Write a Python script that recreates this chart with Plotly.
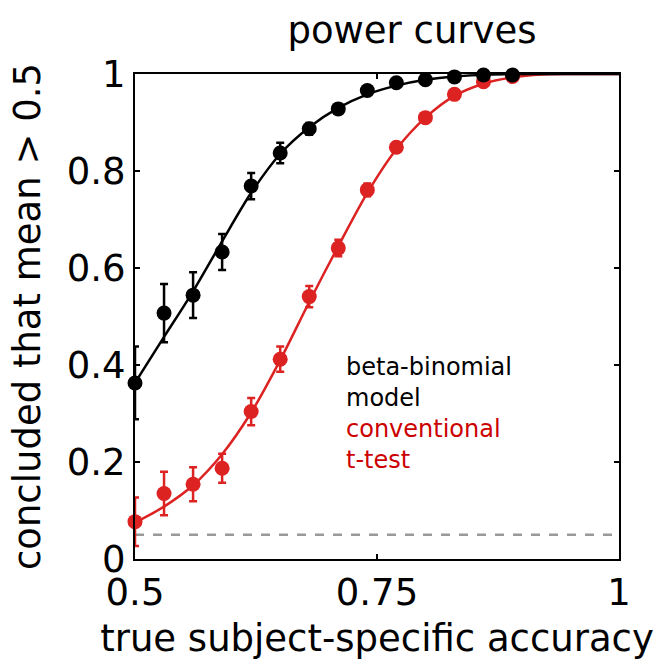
import plotly.graph_objects as go

# Simulated power of each test, per true accuracy
accuracy = [0.50, 0.53, 0.56, 0.59, 0.62, 0.65, 0.68, 0.71, 0.74, 0.77, 0.80, 0.83, 0.86, 0.89]

beta_binomial_power = [0.363, 0.507, 0.544, 0.633, 0.769, 0.837, 0.887, 0.928, 0.966, 0.982, 0.988, 0.994, 0.998, 0.998]
beta_binomial_err = [0.075, 0.060, 0.047, 0.037, 0.027, 0.021, 0.012, 0.009, 0.006, 0.005, 0.004, 0.003, 0.002, 0.002]

ttest_power = [0.077, 0.135, 0.154, 0.187, 0.304, 0.412, 0.541, 0.641, 0.761, 0.849, 0.910, 0.958, 0.984, 0.995]
ttest_err = [0.050, 0.045, 0.035, 0.030, 0.028, 0.026, 0.022, 0.017, 0.013, 0.010, 0.008, 0.006, 0.004, 0.003]

# Fitted power curves
curve_x = [0.50, 0.53, 0.56, 0.59, 0.62, 0.65, 0.68, 0.71, 0.74, 0.77, 0.80, 0.83, 0.86, 0.89, 0.92, 0.95, 1.00]
beta_binomial_curve = [0.363, 0.458, 0.552, 0.655, 0.755, 0.835, 0.890, 0.930, 0.958, 0.976, 0.988, 0.995, 0.998, 1.000, 1.000, 1.000, 1.000]
ttest_curve = [0.075, 0.108, 0.152, 0.216, 0.302, 0.410, 0.530, 0.645, 0.755, 0.845, 0.910, 0.955, 0.980, 0.993, 0.999, 1.000, 1.000]

# Nominal significance level
alpha_x = [0.5, 1.0]
alpha_y = [0.05, 0.05]

x_ticks = [0.5, 0.75, 1.0]
x_ticklabels = ["0.5", "0.75", "1"]
y_ticks = [0, 0.2, 0.4, 0.6, 0.8, 1.0]
y_ticklabels = ["0", "0.2", "0.4", "0.6", "0.8", "1"]

# In-plot labels: (text, colour, y position of block centre)
label_blocks = [
    ("beta-binomial<br>model", "#000000", 0.363),
    ("conventional<br>t-test", "#cc0000", 0.236),
]
label_x = 0.716

BLACK = "#000000"
RED = "#dd2222"
GREY = "#999999"
FONT = "DejaVu Sans, Liberation Sans, sans-serif"

fig = go.Figure()

fig.add_trace(go.Scatter(
    x=alpha_x, y=alpha_y, mode="lines",
    line=dict(color=GREY, width=2.5, dash="dash"),
    showlegend=False, hoverinfo="skip",
))

fig.add_trace(go.Scatter(
    x=curve_x, y=ttest_curve, mode="lines",
    line=dict(color=RED, width=2.5, shape="spline", smoothing=0.8),
    showlegend=False,
))
fig.add_trace(go.Scatter(
    x=curve_x, y=beta_binomial_curve, mode="lines",
    line=dict(color=BLACK, width=2.5, shape="spline", smoothing=0.8),
    showlegend=False,
))

fig.add_trace(go.Scatter(
    x=accuracy, y=ttest_power, mode="markers",
    marker=dict(color=RED, size=15),
    error_y=dict(type="data", array=ttest_err, color=RED, thickness=2.5, width=4),
    cliponaxis=False, showlegend=False,
))
fig.add_trace(go.Scatter(
    x=accuracy, y=beta_binomial_power, mode="markers",
    marker=dict(color=BLACK, size=15),
    error_y=dict(type="data", array=beta_binomial_err, color=BLACK, thickness=2.5, width=4),
    cliponaxis=False, showlegend=False,
))

for text, colour, ypos in label_blocks:
    fig.add_annotation(
        x=label_x, y=ypos, xref="x", yref="y",
        text=text, showarrow=False,
        xanchor="left", yanchor="middle", align="left",
        font=dict(family=FONT, size=24, color=colour),
    )

axis_common = dict(
    showgrid=False, zeroline=False, automargin=False,
    showline=True, linecolor=BLACK, linewidth=2, mirror="ticks",
    ticks="inside", ticklen=5, tickwidth=1.5, tickcolor=BLACK,
    tickfont=dict(family=FONT, size=37, color=BLACK),
)

fig.update_xaxes(
    range=[0.5, 1.0], tickvals=x_ticks, ticktext=x_ticklabels,
    title=dict(text="true subject-specific accuracy",
               font=dict(family=FONT, size=37, color=BLACK)),
    **axis_common,
)
fig.update_yaxes(
    range=[0, 1.0], tickvals=y_ticks, ticktext=y_ticklabels,
    title=dict(text="concluded that mean > 0.5",
               font=dict(family=FONT, size=37, color=BLACK)),
    **axis_common,
)

fig.update_layout(
    width=661, height=660,
    margin=dict(l=135, r=42, t=74, b=101),
    paper_bgcolor="white", plot_bgcolor="white",
    title=dict(text="power curves", x=412 / 661, xanchor="center", xref="container",
               y=1 - 30 / 660, yanchor="middle", yref="container",
               font=dict(family=FONT, size=37, color=BLACK)),
    showlegend=False,
)

fig.write_html("out.html")
